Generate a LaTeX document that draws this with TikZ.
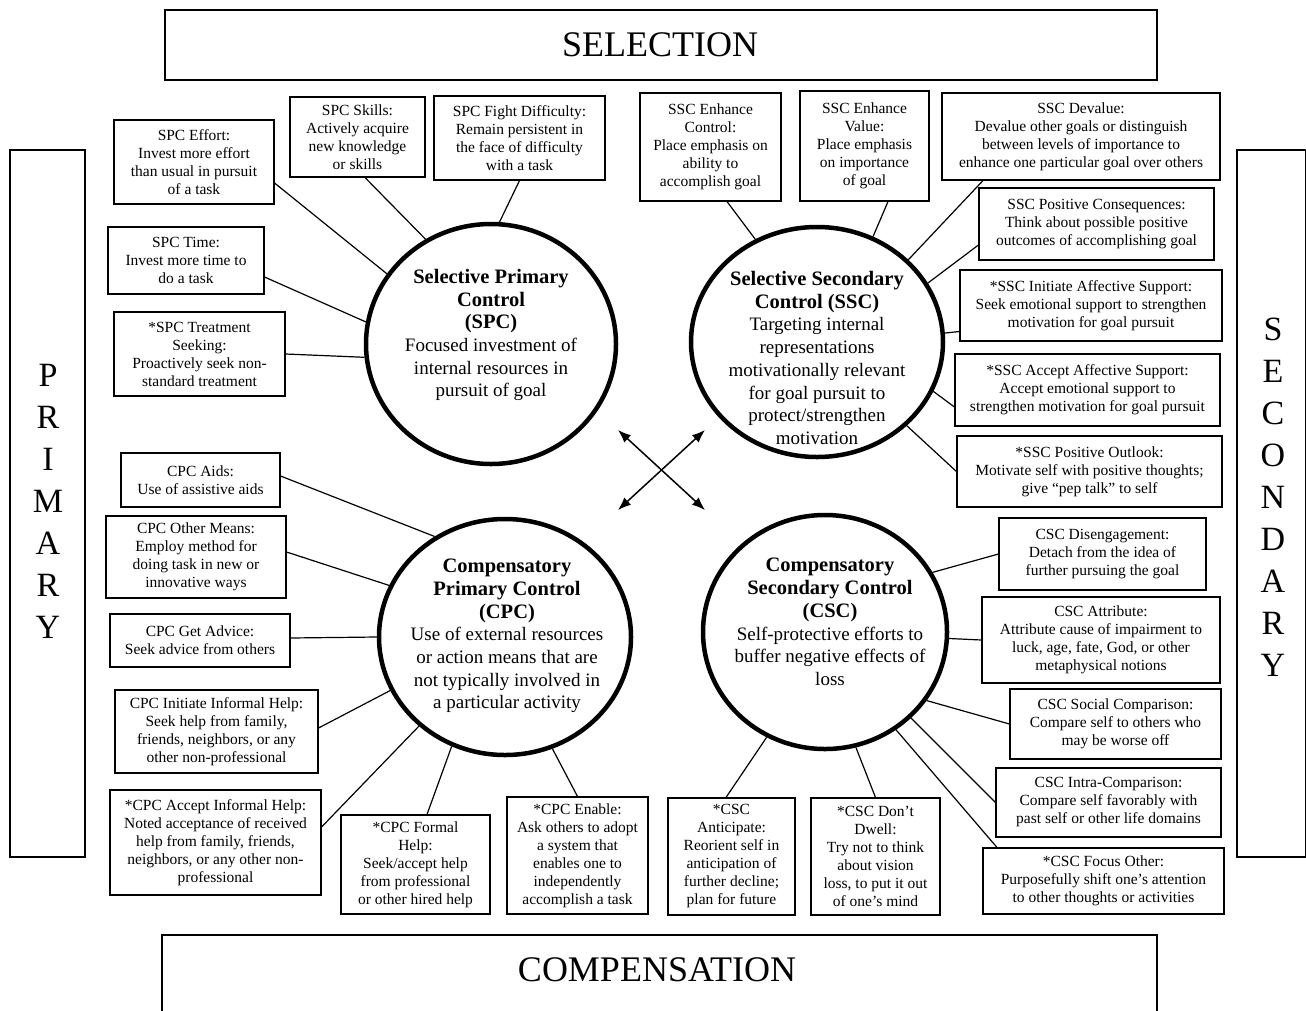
\documentclass[tikz,border=0pt]{standalone}
\usepackage{fontspec}
\setmainfont{Liberation Serif}
\usetikzlibrary{shapes.geometric,arrows.meta}
\tikzset{
  box/.style={draw, line width=1.1pt, align=center, inner sep=1pt, font=\fontsize{15.5}{18}\selectfont},
  bigc/.style={draw, ellipse, line width=4.5pt, inner sep=0pt},
  ctext/.style={align=center, inner sep=0pt, font=\fontsize{19}{22.7}\selectfont},
  frame/.style={draw, line width=2.5pt, inner sep=0pt},
  ttext/.style={inner sep=0pt, font=\fontsize{36}{40}\selectfont},
  vtext/.style={align=center, inner sep=0pt, font=\fontsize{34}{42}\selectfont},
  conn/.style={line width=1.2pt},
  arr/.style={line width=1.5pt, {Latex[length=13pt,width=10pt]}-{Latex[length=13pt,width=10pt]}},
}
\newcommand{\mybox}[6]{\node[box, minimum width={#4-#2}, minimum height={#5-#3}] (#1) at ({(#2+#4)/2},{(#3+#5)/2}) {#6};}
\newcommand{\bt}[1]{\textbf{\fontsize{20.5}{22.7}\selectfont #1}}
\begin{document}
\begin{tikzpicture}[x=1pt,y=-1pt]
\useasboundingbox (0,0) rectangle (1306,1010);
\clip (0,0) rectangle (1306,1010);
\fill[white] (0,0) rectangle (1306,1010);

% frames
\node[frame, minimum width=992, minimum height=70] (sel) at (661,45) {};
\node[ttext] (selt) at (660,45) {SELECTION};
\node[frame, minimum width=995, minimum height=100] (comp) at (659.5,985) {};
\node[ttext] (compt) at (657,970) {COMPENSATION};
\node[frame, minimum width=75, minimum height=707] (prim) at (47.5,503.5) {};
\node[vtext] (primt) at (48,501.5) {P\\R\\I\\M\\A\\R\\Y};
\node[frame, minimum width=69, minimum height=707] (sec) at (1271.5,503.5) {};
\node[vtext] (sect) at (1273,497.5) {S\\E\\C\\O\\N\\D\\A\\R\\Y};

% circles
\node[bigc, minimum width=250, minimum height=240] (spc) at (491,344) {};
\node[ctext] (spct) at (491,335) {\bt{Selective Primary}\\\bt{Control}\\\bt{(SPC)}\\Focused investment of\\internal resources in\\pursuit of goal};
\node[bigc, minimum width=252, minimum height=230] (ssc) at (817,342) {};
\node[ctext] (ssct) at (817,358) {\bt{Selective Secondary}\\\bt{Control (SSC)}\\Targeting internal\\representations\\motivationally relevant\\for goal pursuit to\\protect/strengthen\\motivation};
\node[bigc, minimum width=252, minimum height=236] (cpc) at (505,637) {};
\node[ctext] (cpct) at (507,636) {\bt{Compensatory}\\\bt{Primary Control}\\\bt{(CPC)}\\Use of external resources\\or action means that are\\not typically involved in\\a particular activity};
\node[bigc, minimum width=244, minimum height=234] (csc) at (825,632) {};
\node[ctext] (csct) at (830,622) {\bt{Compensatory}\\\bt{Secondary Control}\\\bt{(CSC)}\\Self-protective efforts to\\buffer negative effects of\\loss};

% SPC boxes
\mybox{effort}{114}{120}{274}{204}{SPC Effort:\\Invest more effort\\than usual in pursuit\\of a task}
\mybox{skills}{290}{97}{425}{177}{SPC Skills:\\Actively acquire\\new knowledge\\or skills}
\mybox{fight}{434}{96}{605}{180}{SPC Fight Difficulty:\\Remain persistent in\\the face of difficulty\\with a task}
\mybox{time}{108}{227}{264}{294}{SPC Time:\\Invest more time to\\do a task}
\mybox{treat}{114}{312}{285}{396}{*SPC Treatment\\Seeking:\\Proactively seek non-\\standard treatment}

% SSC boxes
\mybox{enhc}{640}{93}{781}{201}{SSC Enhance\\Control:\\Place emphasis on\\ability to\\accomplish goal}
\mybox{enhv}{800}{91}{929}{201}{SSC Enhance\\Value:\\Place emphasis\\on importance\\of goal}
\mybox{deval}{942}{93}{1220}{180}{SSC Devalue:\\Devalue other goals or distinguish\\between levels of importance to\\enhance one particular goal over others}
\mybox{poscons}{979}{188}{1214}{260}{SSC Positive Consequences:\\Think about possible positive\\outcomes of accomplishing goal}
\mybox{initaff}{960}{270}{1222}{341}{*SSC Initiate Affective Support:\\Seek emotional support to strengthen\\motivation for goal pursuit}
\mybox{accaff}{955}{354}{1220}{426}{*SSC Accept Affective Support:\\Accept emotional support to\\strengthen motivation for goal pursuit}
\mybox{outlook}{957}{436}{1222}{507}{*SSC Positive Outlook:\\Motivate self with positive thoughts;\\give “pep talk” to self}

% CPC boxes
\mybox{aids}{121}{453}{280}{507}{CPC Aids:\\Use of assistive aids}
\mybox{other}{106}{516}{286}{598}{CPC Other Means:\\Employ method for\\doing task in new or\\innovative ways}
\mybox{advice}{110}{614}{290}{667}{CPC Get Advice:\\Seek advice from others}
\mybox{initinf}{115}{690}{318}{773}{CPC Initiate Informal Help:\\Seek help from family,\\friends, neighbors, or any\\other non-professional}
\mybox{accinf}{110}{790}{321}{895}{*CPC Accept Informal Help:\\Noted acceptance of received\\help from family, friends,\\neighbors, or any other non-\\professional}
\mybox{formal}{341}{815}{490}{914}{*CPC Formal\\Help:\\Seek/accept help\\from professional\\or other hired help}
\mybox{enable}{507}{797}{648}{914}{*CPC Enable:\\Ask others to adopt\\a system that\\enables one to\\independently\\accomplish a task}

% CSC boxes
\mybox{diseng}{999}{518}{1206}{590}{CSC Disengagement:\\Detach from the idea of\\further pursuing the goal}
\mybox{attr}{982}{597}{1220}{683}{CSC Attribute:\\Attribute cause of impairment to\\luck, age, fate, God, or other\\metaphysical notions}
\mybox{social}{1010}{689}{1221}{759}{CSC Social Comparison:\\Compare self to others who\\may be worse off}
\mybox{intra}{996}{768}{1221}{837}{CSC Intra-Comparison:\\Compare self favorably with\\past self or other life domains}
\mybox{focus}{983}{848}{1224}{914}{*CSC Focus Other:\\Purposefully shift one’s attention\\to other thoughts or activities}
\mybox{antic}{668}{798}{795}{915}{*CSC\\Anticipate:\\Reorient self in\\anticipation of\\further decline;\\plan for future}
\mybox{dwell}{811}{798}{940}{915}{*CSC Don’t\\Dwell:\\Try not to think\\about vision\\loss, to put it out\\of one’s mind}

% connectors SPC
\draw[conn] ([yshift=-21pt]effort.east) -- (spc.146);
\draw[conn] ([xshift=7.5pt]skills.south) -- (spc.122);
\draw[conn] (fight.south) -- (spc.86);
\draw[conn] ([yshift=-16.5pt]time.east) -- (spc.170);
\draw[conn] (treat.east) -- (spc.186);
% connectors SSC
\draw[conn] ([xshift=16.5pt]enhc.south) -- (ssc.121);
\draw[conn] ([xshift=23.5pt]enhv.south) -- (ssc.62);
\draw[conn] ([xshift=-98pt]deval.south) -- (ssc.42);
\draw[conn] ([yshift=-21pt]poscons.west) -- (ssc.28);
\draw[conn] ([yshift=-26pt]initaff.west) -- (ssc.4);
\draw[conn] ([yshift=-17pt]accaff.west) -- (ssc.337);
\draw[conn] (outlook.west) -- (ssc.317);
% connectors CPC
\draw[conn] ([yshift=4pt]aids.east) -- (cpc.125);
\draw[conn] ([yshift=5pt]other.east) -- (cpc.156);
\draw[conn] ([yshift=2.5pt]advice.east) -- (cpc.180);
\draw[conn] ([yshift=3.5pt]initinf.east) -- (cpc.205);
\draw[conn] ([yshift=15.5pt]accinf.east) -- (cpc.226);
\draw[conn] ([xshift=11.5pt]formal.north) -- (cpc.244);
\draw[conn] (enable.north) -- (cpc.293);
% connectors CSC
\draw[conn] (diseng.west) -- (csc.29);
\draw[conn] (attr.west) -- (csc.357);
\draw[conn] (social.west) -- (csc.326);
\draw[conn] (intra.west) -- (csc.315);
\draw[conn] ([xshift=-106.5pt]focus.north) -- (csc.306);
\draw[conn] ([xshift=-5.5pt]antic.north) -- (csc.241);
\draw[conn] (dwell.north) -- (csc.285);

% crossing arrows
\coordinate (a1) at (618,430);
\coordinate (a2) at (705,510);
\coordinate (a3) at (618,510);
\coordinate (a4) at (705,430);
\draw[arr] (a1) -- (a2);
\draw[arr] (a3) -- (a4);
\end{tikzpicture}
\end{document}
